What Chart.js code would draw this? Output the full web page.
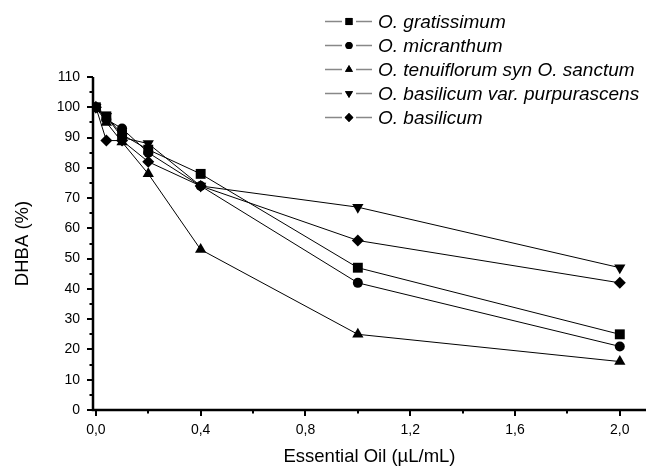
<!DOCTYPE html>
<html>
<head>
<meta charset="utf-8">
<script src="https://cdn.jsdelivr.net/npm/chart.js@4"></script>
<style>
  html, body { margin: 0; padding: 0; background: #fff; }
  #wrap { width: 653px; height: 468px; }
</style>
</head>
<body>
<div id="wrap"><canvas id="c" width="653" height="468"></canvas></div>
<script>
// concentrations (µL/mL)
const doses = [0, 0.04, 0.1, 0.2, 0.4, 1.0, 2.0];

const seriesNames = [
    'O. gratissimum',
    'O. micranthum',
    'O. tenuiflorum syn O. sanctum',
    'O. basilicum var. purpurascens',
    'O. basilicum'
];

// DHBA (%)
const gratissimum = [100, 97, 91, 86, 78, 47, 25];
const micranthum = [100, 96, 93, 85, 74, 42, 21];
const tenuiflorum = [100, 95, 88.5, 78, 53, 25, 16];
const purpurascens = [100, 97, 90, 88, 74, 67, 47];
const basilicum = [100, 89, 89, 82, 74, 56, 42];

const xTicks = [0, 0.4, 0.8, 1.2, 1.6, 2.0];
const yTicks = [0, 10, 20, 30, 40, 50, 60, 70, 80, 90, 100, 110];

// r = plot marker radius, lr = legend marker radius
let markers = [
    {style: 'rect', rot: 0, r: 7, lr: 5},
    {style: 'circle', rot: 0, r: 5, lr: 3.6},
    {style: 'triangle', rot: 0, r: 6.5, lr: 4.6},
    {style: 'triangle', rot: 180, r: 6.5, lr: 4.6},
    {style: 'rectRot', rot: 0, r: 6, lr: 4.4}
];

let allValues = [gratissimum, micranthum, tenuiflorum, purpurascens, basilicum];

let datasets = allValues.map((vals, i) => ({
    label: seriesNames[i],
    data: vals.map((v, k) => ({x: doses[k], y: v})),
    borderColor: '#000',
    borderWidth: 1,
    backgroundColor: '#000',
    pointStyle: markers[i].style,
    pointRotation: markers[i].rot,
    pointRadius: markers[i].r,
    pointBorderWidth: 0,
    tension: 0
}));

let fmt = v => v.toFixed(1).replace('.', ',');
let family = '"Liberation Sans", Arial, sans-serif';

// axes, minor ticks and the legend, drawn by hand
let decor = {
    id: 'decor',
    afterDraw(chart) {
        let ctx = chart.ctx, a = chart.chartArea;
        let xs = chart.scales.x, ys = chart.scales.y;
        ctx.save();
        ctx.strokeStyle = '#000';
        ctx.lineWidth = 2.5;
        ctx.beginPath();
        ctx.moveTo(a.left, a.top);
        ctx.lineTo(a.left, a.bottom);
        ctx.lineTo(a.right, a.bottom);
        ctx.stroke();

        ctx.lineWidth = 2;
        ctx.beginPath();
        for (let v = 0; v <= 110; v += 5) {
            let y = Math.round(ys.getPixelForValue(v));
            let len = v % 10 === 0 ? 6 : 3.5;
            ctx.moveTo(a.left, y);
            ctx.lineTo(a.left - len, y);
        }
        for (let v = 0; v <= 2.0001; v += 0.2) {
            let x = Math.round(xs.getPixelForValue(v));
            let major = Math.round(v * 10) % 4 === 0;
            ctx.moveTo(x, a.bottom);
            ctx.lineTo(x, a.bottom + (major ? 6 : 3.5));
        }
        ctx.stroke();

        // legend
        let lx = 325, ly = 21.5, step = 24;
        chart.data.datasets.forEach((ds, i) => {
            let y = ly + i * step;
            ctx.strokeStyle = '#888';
            ctx.lineWidth = 1.5;
            ctx.beginPath();
            ctx.moveTo(lx, y);
            ctx.lineTo(lx + 17, y);
            ctx.moveTo(lx + 31, y);
            ctx.lineTo(lx + 47, y);
            ctx.stroke();
            Chart.helpers.drawPoint(ctx, {
                pointStyle: ds.pointStyle,
                rotation: ds.pointRotation,
                radius: markers[i].lr,
                borderWidth: 0
            }, lx + 24, y);
            ctx.fillStyle = '#000';
            ctx.fill();
            ctx.font = 'italic 19px ' + family;
            ctx.textBaseline = 'middle';
            ctx.textAlign = 'left';
            ctx.fillText(ds.label, lx + 53, y + 1);
        });
        ctx.restore();
    }
};

new Chart(document.getElementById('c'), {
    type: 'line',
    data: {datasets: datasets},
    options: {
        responsive: false,
        animation: false,
        layout: {padding: {top: 77, right: 5, left: 0, bottom: 0}},
        plugins: {legend: {display: false}, tooltip: {enabled: false}},
        scales: {
            x: {
                type: 'linear',
                min: -0.011,
                max: 2.1,
                afterBuildTicks: s => { s.ticks = xTicks.map(v => ({value: v})); },
                afterFit: s => { s.height = 58; },
                border: {display: false},
                grid: {display: false},
                ticks: {
                    color: '#000',
                    padding: 4,
                    font: {family: family, size: 14},
                    callback: v => fmt(v)
                },
                title: {
                    display: true,
                    text: 'Essential Oil (µL/mL)',
                    color: '#000',
                    padding: {top: 8, bottom: 0},
                    font: {family: family, size: 18.5}
                }
            },
            y: {
                min: 0,
                max: 110,
                afterBuildTicks: s => { s.ticks = yTicks.map(v => ({value: v})); },
                afterFit: s => { s.width = 93; },
                border: {display: false},
                grid: {display: false},
                ticks: {
                    color: '#000',
                    padding: 5,
                    font: {family: family, size: 14}
                },
                title: {
                    display: true,
                    text: 'DHBA (%)',
                    color: '#000',
                    padding: {top: 12, bottom: 0},
                    font: {family: family, size: 18.5}
                }
            }
        }
    },
    plugins: [decor]
});
</script>
</body>
</html>
